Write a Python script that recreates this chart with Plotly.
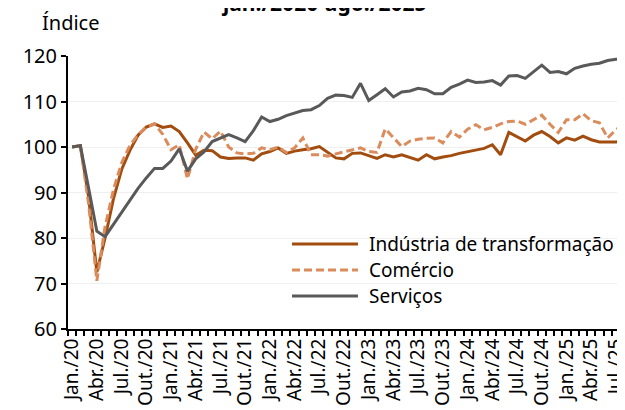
import plotly.graph_objects as go

months = ["Jan.", "Fev.", "Mar.", "Abr.", "Mai.", "Jun.", "Jul.", "Ago.", "Set.", "Out.", "Nov.", "Dez."]
years = ["20", "21", "22", "23", "24", "25"]
n_months = 68  # jan/2020 .. ago/2025
periods = [f"{months[i % 12]}/{years[i // 12]}" for i in range(n_months)]

industria = [100, 100.3, 89, 72.5, 80, 88.5, 95, 99.2, 102.6, 104.4,
             105.1, 104.3, 104.6, 103.4, 100.9, 98.2, 99.3, 99.2, 97.8, 97.5,
             97.6, 97.6, 97.1, 98.5, 99, 99.8, 98.6, 99.1, 99.4, 99.6,
             100.1, 98.8, 97.6, 97.4, 98.6, 98.7, 98.1, 97.5, 98.3, 97.8,
             98.3, 97.7, 97.1, 98.3, 97.4, 97.8, 98.1, 98.6, 99, 99.3,
             99.7, 100.5, 98.3, 103.2, 102.3, 101.3, 102.6, 103.4, 102.3, 100.9,
             102, 101.5, 102.4, 101.6, 101.1, 101.1, 101.1, 101.3]

comercio = [100, 100.3, 87.5, 70.6, 82.5, 90.5, 96.5, 100.3, 102.7, 104.3,
            105.1, 102.8, 99.4, 100.5, 93, 99.5, 103.3, 101.8, 103.5, 100,
            98.7, 98.5, 98.6, 99.8, 99.4, 100, 98.8, 99.8, 102, 98.3,
            98.3, 98, 98.5, 98.9, 99.4, 99.8, 99, 98.8, 104, 102,
            100.1, 101.3, 101.7, 101.9, 102, 100.9, 103.4, 102.2, 103.9, 104.9,
            103.8, 104.3, 105.1, 105.6, 105.7, 105, 106, 107, 105, 103.2,
            106, 106, 107.3, 105.8, 105.3, 102, 103.8, 105]

servicos = [100, 100.3, 91, 81.5, 80.3, 83, 85.6, 88.3, 90.9, 93.2,
            95.3, 95.3, 96.9, 99.6, 94.7, 97.4, 98.9, 101.2, 101.9, 102.7,
            102, 101.2, 103.6, 106.6, 105.6, 106.1, 106.9, 107.4, 108, 108.2,
            109.1, 110.7, 111.4, 111.3, 110.9, 114, 110.2, 111.5, 112.8, 111,
            112.1, 112.3, 112.9, 112.6, 111.7, 111.7, 113.1, 113.8, 114.7, 114.2,
            114.3, 114.6, 113.6, 115.6, 115.7, 115.1, 116.5, 118, 116.4, 116.6,
            116.1, 117.3, 117.8, 118.2, 118.4, 119, 119.3, 119.4]

series_names = ["Indústria de transformação", "Comércio", "Serviços"]
title_text = "jan./2020-ago./2025"
y_title = "Índice"

x = list(range(n_months))
tick_idx = list(range(0, n_months, 3))
tick_text = [periods[i] for i in tick_idx]

c_ind = "#A24D0F"
c_com = "#DB8C5C"
c_ser = "#595959"
font_family = "Noto Sans, Open Sans, DejaVu Sans, sans-serif"

fig = go.Figure()
fig.add_trace(go.Scatter(x=x, y=industria, mode="lines", name=series_names[0],
                         line=dict(color=c_ind, width=3), showlegend=False))
fig.add_trace(go.Scatter(x=x, y=comercio, mode="lines", name=series_names[1],
                         line=dict(color=c_com, width=3, dash="8px,4px"), showlegend=False))
fig.add_trace(go.Scatter(x=x, y=servicos, mode="lines", name=series_names[2],
                         line=dict(color=c_ser, width=3), showlegend=False))

# the page body adds an 8px offset, so the figure is sized to fill the rest
fig.update_layout(
    width=617, height=402,
    margin=dict(l=60, r=0, t=48, b=81, autoexpand=False),
    paper_bgcolor="white", plot_bgcolor="white",
    font=dict(family=font_family, size=20, color="#000000"),
)
fig.update_xaxes(
    automargin=False,
    range=[-0.5, 67.1],
    tickmode="array", tickvals=tick_idx, ticktext=tick_text,
    tickangle=-90, tickfont=dict(size=19), ticklabeloverflow="allow",
    ticks="", showgrid=False, zeroline=False,
    showline=True, linecolor="black", linewidth=2,
    minor=dict(tickmode="linear", tick0=0.5, dtick=1, ticks="outside",
               ticklen=5, tickwidth=1.5, tickcolor="black", showgrid=False),
)
fig.update_yaxes(
    automargin=False,
    range=[60, 120], dtick=10,
    ticks="outside", ticklen=5, tickwidth=2, tickcolor="black",
    tickfont=dict(size=20),
    showgrid=True, gridcolor="#EFEFEF", gridwidth=1, zeroline=False,
    showline=True, linecolor="black", linewidth=2,
)

# Title (partially cut at top in the original) and y-axis label
fig.add_annotation(text=f"<b>{title_text}</b>", xref="paper", yref="paper",
                   x=0.46, y=1.195, xanchor="center", yanchor="middle",
                   showarrow=False, font=dict(size=21))
fig.add_annotation(text=y_title, xref="paper", yref="paper",
                   x=-0.0503, y=1.1245, xanchor="left", yanchor="middle",
                   showarrow=False, font=dict(size=20))

# Legend (drawn inside the plot area)
leg_y = [0.3114, 0.2161, 0.1209]
leg_styles = [dict(color=c_ind, width=3), dict(color=c_com, width=3, dash="8px,4px"),
              dict(color=c_ser, width=3)]
for name, yy, st in zip(series_names, leg_y, leg_styles):
    fig.add_shape(type="line", xref="paper", yref="paper",
                  x0=0.4022, x1=0.5206, y0=yy, y1=yy, line=st)
    fig.add_annotation(text=name, xref="paper", yref="paper", x=0.5368, y=yy,
                       xanchor="left", yanchor="middle", showarrow=False,
                       font=dict(size=19))

fig.write_html("out.html")
